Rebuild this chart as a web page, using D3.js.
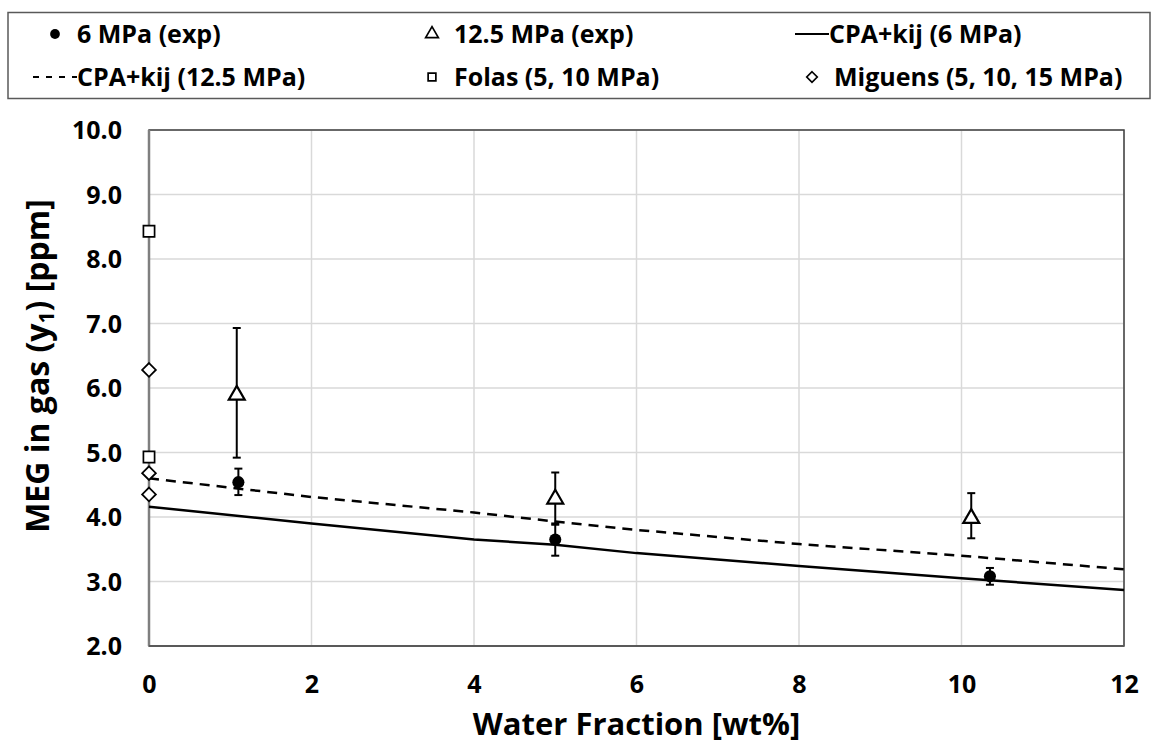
<!DOCTYPE html>
<html>
<head>
<meta charset="utf-8">
<script src="https://cdn.jsdelivr.net/npm/d3@7"></script>
<style>
  body{margin:0;background:#fff;}
  text{font-family:'Open Sans', sans-serif;font-weight:bold;fill:#000;}
</style>
</head>
<body>
<svg id="main"></svg>
<script>
//--------data----------
let xTicks = [0, 2, 4, 6, 8, 10, 12];
let yTicks = [2, 3, 4, 5, 6, 7, 8, 9, 10];

// 6 MPa experimental (mean, lower, upper)
let exp6X = [1.1, 5.0, 10.35];
let exp6Y = [4.54, 3.65, 3.08];
let exp6Lo = [4.34, 3.40, 2.95];
let exp6Hi = [4.75, 3.90, 3.21];

// 12.5 MPa experimental
let exp125X = [1.08, 5.0, 10.12];
let exp125Y = [5.89, 4.28, 3.98];
let exp125Lo = [4.92, 3.88, 3.67];
let exp125Hi = [6.93, 4.69, 4.37];

// literature
let folasX = [0, 0];
let folasY = [8.43, 4.93];
let miguensX = [0, 0, 0];
let miguensY = [6.28, 4.68, 4.35];

// CPA+kij model
let modelX = [0, 2, 4, 5, 6, 8, 10, 12];
let cpa6 = [4.16, 3.90, 3.65, 3.57, 3.44, 3.24, 3.05, 2.87];
let cpa125 = [4.60, 4.31, 4.07, 3.93, 3.80, 3.58, 3.40, 3.19];

let legendItems = [
  {label:'6 MPa (exp)', sym:'circle', col:0, row:0},
  {label:'12.5 MPa (exp)', sym:'triangle', col:1, row:0},
  {label:'CPA+kij (6 MPa)', sym:'solid', col:2, row:0},
  {label:'CPA+kij (12.5 MPa)', sym:'dash', col:0, row:1},
  {label:'Folas (5, 10 MPa)', sym:'square', col:1, row:1},
  {label:'Miguens (5, 10, 15 MPa)', sym:'diamond', col:2, row:1},
];

//--------code----------
let width = 1152, height = 747;
let svg = d3.select('#main')
.attr('width', width)
.attr('height', height);

let sx = d3.scaleLinear().domain([0, 12]).range([149, 1124]);
let sy = d3.scaleLinear().domain([2, 10]).range([646, 130]);

// grid
svg.append('g')
.selectAll('line')
.data(yTicks)
.join('line')
.attr('x1', sx(0)).attr('x2', sx(12))
.attr('y1', d=>sy(d)).attr('y2', d=>sy(d))
.attr('stroke', '#d9d9d9')
.attr('stroke-width', 1.5);
svg.append('g')
.selectAll('line')
.data(xTicks)
.join('line')
.attr('y1', sy(2)).attr('y2', sy(10))
.attr('x1', d=>sx(d)).attr('x2', d=>sx(d))
.attr('stroke', '#d9d9d9')
.attr('stroke-width', 1.5);

// plot border + axes
svg.append('rect')
.attr('x', sx(0)).attr('y', sy(10))
.attr('width', sx(12)-sx(0)).attr('height', sy(2)-sy(10))
.attr('fill', 'none')
.attr('stroke', '#404040')
.attr('stroke-width', 1.5);
svg.append('line')
.attr('x1', sx(0)).attr('x2', sx(0)).attr('y1', sy(10)).attr('y2', sy(2))
.attr('stroke', '#7f7f7f').attr('stroke-width', 2.5);
svg.append('line')
.attr('x1', sx(0)).attr('x2', sx(12)).attr('y1', sy(2)).attr('y2', sy(2))
.attr('stroke', '#595959').attr('stroke-width', 2);

let ax = d3.axisBottom(sx).tickValues(xTicks).tickSize(0).tickPadding(0).tickFormat(d3.format('d'));
let ay = d3.axisLeft(sy).tickValues(yTicks).tickSize(0).tickPadding(0).tickFormat(d3.format('.1f'));
let gx = svg.append('g')
.attr('transform', `translate(0,${sy(2)+29})`)
.call(ax);
let gy = svg.append('g')
.attr('transform', `translate(122,0)`)
.call(ay);
for(let g of [gx, gy]){
  g.select('.domain').remove();
  g.selectAll('text')
  .style('font-family', "'Open Sans', sans-serif")
  .style('font-weight', 'bold')
  .style('font-size', '25px')
  .attr('fill', '#000');
}
gy.selectAll('text').attr('dy', '0.35em');
gx.selectAll('text').attr('dy', '0.71em');

// axis titles
svg.append('text')
.attr('x', (sx(0)+sx(12))/2)
.attr('y', 735)
.attr('text-anchor', 'middle')
.style('font-size', '31px')
.text('Water Fraction [wt%]');

let yt = svg.append('text')
.attr('transform', 'translate(49,366) rotate(-90)')
.attr('text-anchor', 'middle')
.style('font-size', '32px');
yt.append('tspan').text('MEG in gas (y');
yt.append('tspan').attr('baseline-shift', '-25%').style('font-size', '21px').text('1');
yt.append('tspan').text(') [ppm]');

// model lines
let line = d3.line().x((d,i)=>sx(modelX[i])).y(d=>sy(d));
svg.append('path')
.datum(cpa6)
.attr('d', line)
.attr('fill', 'none')
.attr('stroke', '#000')
.attr('stroke-width', 2.5);
svg.append('path')
.datum(cpa125)
.attr('d', line)
.attr('fill', 'none')
.attr('stroke', '#000')
.attr('stroke-width', 2.5)
.attr('stroke-dasharray', '10,7');

// error bars
function errorBars(xs, lo, hi){
  let g = svg.append('g').attr('stroke', '#000').attr('stroke-width', 2);
  xs.forEach((x,i)=>{
    g.append('line').attr('x1', sx(x)).attr('x2', sx(x)).attr('y1', sy(lo[i])).attr('y2', sy(hi[i]));
    for(let v of [lo[i], hi[i]]){
      g.append('line').attr('x1', sx(x)-4).attr('x2', sx(x)+4).attr('y1', sy(v)).attr('y2', sy(v));
    }
  });
}
errorBars(exp125X, exp125Lo, exp125Hi);
errorBars(exp6X, exp6Lo, exp6Hi);

let symbols = {
  circle: d3.symbolCircle,
  triangle: d3.symbolTriangle,
  square: d3.symbolSquare,
  diamond: d3.symbolDiamond2,
};

function markers(xs, ys, sym, size, filled, sw){
  svg.append('g')
  .selectAll('path')
  .data(ys)
  .join('path')
  .attr('transform', (d,i)=>`translate(${sx(xs[i])},${sy(d)})`)
  .attr('d', d3.symbol(symbols[sym], size))
  .attr('fill', filled ? '#000' : '#fff')
  .attr('stroke', '#000')
  .attr('stroke-width', sw);
}
markers(exp125X, exp125Y, 'triangle', 110, false, 2.2);
markers(exp6X, exp6Y, 'circle', 115, true, 0);
markers(folasX, folasY, 'square', 125, false, 1.7);
markers(miguensX, miguensY, 'diamond', 120, false, 1.8);

// legend
svg.append('rect')
.attr('x', 8).attr('y', 12.5)
.attr('width', 1142).attr('height', 86)
.attr('fill', 'none')
.attr('stroke', '#595959')
.attr('stroke-width', 1.5);

let colX = [55, 432, 812];
let rowY = [34, 77];
let leg = svg.append('g')
.selectAll('g')
.data(legendItems)
.join('g')
.attr('transform', d=>`translate(${colX[d.col]},${rowY[d.row]})`);
leg.each(function(d){
  let g = d3.select(this);
  let tx = 22;
  if(d.sym === 'solid' || d.sym === 'dash'){
    let half = d.sym === 'solid' ? 17 : 22;
    g.append('line')
    .attr('x1', -half).attr('x2', half)
    .attr('y1', 0).attr('y2', 0)
    .attr('stroke', '#000')
    .attr('stroke-width', 2.2)
    .attr('stroke-dasharray', d.sym === 'dash' ? '6,7' : null);
    tx = half;
  }else{
    let size = {circle:75, triangle:70, square:60, diamond:70}[d.sym];
    g.append('path')
    .attr('d', d3.symbol(symbols[d.sym], size))
    .attr('fill', d.sym === 'circle' ? '#000' : '#fff')
    .attr('stroke', '#000')
    .attr('stroke-width', d.sym === 'circle' ? 0 : 1.7);
  }
  g.append('text')
  .attr('x', tx)
  .attr('dy', '0.35em')
  .style('font-size', '25px')
  .text(d.label);
});
</script>
</body>
</html>
